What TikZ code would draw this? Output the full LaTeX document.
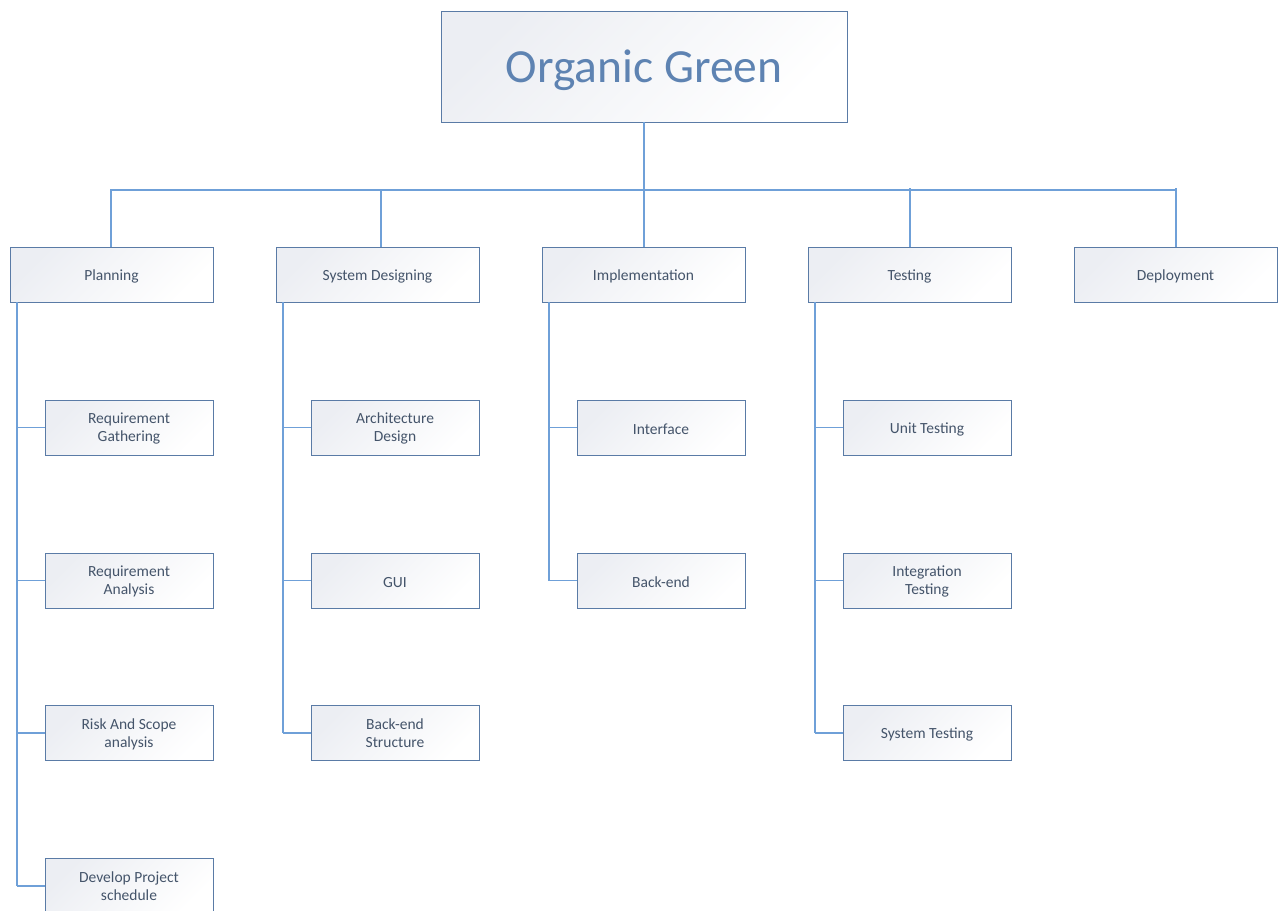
\documentclass[tikz,border=0pt]{standalone}
\usepackage{fontspec}
\setmainfont{Carlito}
% lower a one-line label without changing its measured size
\newcommand{\lowered}[2][1.8pt]{\raisebox{-#1}[\height][\depth]{#2}}
% two-line label, lowered the same way
\newcommand{\twolines}[2]{\raisebox{-1.5pt}[\height][\depth]{\begin{tabular}{@{}c@{}}#1\\[-1pt]#2\end{tabular}}}
\begin{document}
\begin{tikzpicture}[x=1pt,y=-1pt,
  every node/.style={inner sep=0pt, outer sep=0pt},
  box/.style={draw=boxline, line width=1pt, top color=boxshade, bottom color=white,
    shading angle=45, text=boxtext, font=\fontsize{15.5}{19}\selectfont, align=center},
  topbox/.style={box, minimum width=406pt, minimum height=111pt, text=titletext,
    font=\fontsize{47.5}{52}\selectfont},
  phase/.style={box, minimum width=203pt, minimum height=55pt},
  task/.style={box, minimum width=168pt, minimum height=55pt},
  link/.style={draw=linkblue, line width=1.7pt}]
\definecolor{boxline}{HTML}{5A7BA6}
\definecolor{boxshade}{HTML}{ECEEF3}
\definecolor{boxtext}{HTML}{44546A}
\definecolor{titletext}{HTML}{5E83B2}
\definecolor{linkblue}{HTML}{6FA0D8}
\useasboundingbox (0,0) rectangle (1279,910);

% root
\node[topbox] (root) at (644,66.5) {\lowered[4pt]{Organic Green}};

% phases
\node[phase] (plan) at (111.5,274.5) {\lowered{Planning}};
\node[phase] (sysd) at (377.5,274.5) {\lowered{System Designing}};
\node[phase] (impl) at (643.5,274.5) {\lowered{Implementation}};
\node[phase] (test) at (909.5,274.5) {\lowered{Testing}};
\node[phase] (depl) at (1175.5,274.5) {\lowered{Deployment}};

% planning tasks
\node[task] (p1) at (129,427.5) {\twolines{Requirement}{Gathering}};
\node[task] (p2) at (129,580.5) {\twolines{Requirement}{Analysis}};
\node[task] (p3) at (129,733) {\twolines{Risk And Scope}{analysis}};
\node[task] (p4) at (129,886) {\twolines{Develop Project}{schedule}};

% system design tasks
\node[task] (s1) at (395,427.5) {\twolines{Architecture}{Design}};
\node[task] (s2) at (395,580.5) {\lowered{GUI}};
\node[task] (s3) at (395,733) {\twolines{Back-end}{Structure}};

% implementation tasks
\node[task] (i1) at (661,427.5) {\lowered{Interface}};
\node[task] (i2) at (661,580.5) {\lowered{Back-end}};

% testing tasks
\node[task] (t1) at (927,427.5) {\lowered{Unit Testing}};
\node[task] (t2) at (927,580.5) {\twolines{Integration}{Testing}};
\node[task] (t3) at (927,733) {\lowered{System Testing}};

% bus below the root
\coordinate (bus) at (644,190);
\draw[link] (root.south) -- (bus);
\draw[link] (bus) -- (111,190) -- (plan.north -| 111,0);
\draw[link] (bus) -- (1176,190);
\draw[link] (381,190) -- (sysd.north -| 381,0);
\draw[link] (bus) -- (impl.north -| 644,0);
\draw[link] (910,188) -- (test.north -| 910,0);
\draw[link] (1176,188) -- (depl.north -| 1176,0);

% spines down to the tasks
\foreach \ph/\sx/\last in {plan/17/p4, sysd/283/s3, impl/549/i2, test/815/t3}
  \draw[link] (\ph.south -| \sx,0) -- (\last.west -| \sx,0);
\foreach \t in {p1,p2,p3,p4} \draw[link] (\t.west) -- (\t.west -| 17,0);
\foreach \t in {s1,s2,s3} \draw[link] (\t.west) -- (\t.west -| 283,0);
\foreach \t in {i1,i2} \draw[link] (\t.west) -- (\t.west -| 549,0);
\foreach \t in {t1,t2,t3} \draw[link] (\t.west) -- (\t.west -| 815,0);
\end{tikzpicture}
\end{document}
